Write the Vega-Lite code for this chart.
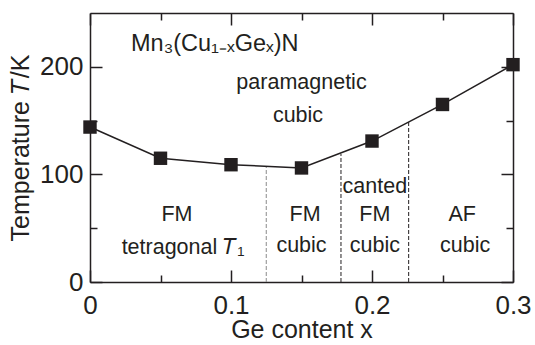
{
  "$schema": "https://vega.github.io/schema/vega-lite/v6.json",
  "width": 423,
  "height": 269,
  "autosize": "none",
  "padding": {"left": 90, "top": 13, "right": 22, "bottom": 63},
  "background": "white",
  "config": {
    "view": {"stroke": null},
    "font": "Liberation Sans",
    "axis": {
      "domainColor": "#231f20", "domainWidth": 1.5, "tickColor": "#231f20", "tickWidth": 1.5,
      "labelColor": "#231f20", "titleColor": "#231f20", "labelFont": "Liberation Sans", "titleFont": "Liberation Sans",
      "labelFontSize": 26, "titleFontSize": 25, "titleFontWeight": "normal", "grid": false
    }
  },
  "layer": [
    {
      "data": {"values": [
        {"x": 0.125, "T0": 0, "T1": 107, "kind": "grey"},
        {"x": 0.178, "T0": 0, "T1": 119, "kind": "black"},
        {"x": 0.226, "T0": 0, "T1": 149, "kind": "black"}
      ]},
      "mark": {"type": "rule", "strokeDash": [4, 2], "strokeWidth": 1},
      "encoding": {
        "x": {"field": "x", "type": "quantitative", "scale": {"domain": [0, 0.3], "nice": false},
          "axis": {"orient": "bottom", "title": "Ge content x", "values": [0, 0.05, 0.1, 0.15, 0.2, 0.25, 0.3],
            "labelExpr": "abs(datum.value*10 - round(datum.value*10)) < 0.01 ? (datum.value == 0 ? '0' : format(datum.value, '.1f')) : ''",
            "tickSize": {"condition": {"test": "abs(datum.value*10 - round(datum.value*10)) < 0.01", "value": -12}, "value": -7},
            "labelPadding": 22, "titlePadding": -6, "labelFlush": false, "labelOverlap": false}},
        "y": {"field": "T0", "type": "quantitative", "scale": {"domain": [0, 250], "nice": false},
          "axis": {"orient": "left", "title": "Temperature 𝑇/K", "values": [0, 50, 100, 150, 200],
            "labelExpr": "datum.value % 100 == 0 ? datum.label : ''",
            "tickSize": {"condition": {"test": "datum.value % 100 == 0", "value": -12}, "value": -7},
            "labelPadding": 19, "titlePadding": 6, "labelFlush": false, "labelOverlap": false}},
        "y2": {"field": "T1"},
        "color": {"field": "kind", "type": "nominal", "scale": {"domain": ["grey", "black"], "range": ["#8a8a8a", "#231f20"]}, "legend": null}
      }
    },
    {
      "data": {"values": [
        {"x": 0, "T": 144}, {"x": 0.05, "T": 115}, {"x": 0.1, "T": 109}, {"x": 0.15, "T": 106},
        {"x": 0.2, "T": 131}, {"x": 0.25, "T": 165}, {"x": 0.3, "T": 202}
      ]},
      "mark": {"type": "line", "color": "#231f20", "strokeWidth": 1.5, "clip": false},
      "encoding": {
        "x": {"field": "x", "type": "quantitative",
          "axis": {"orient": "top", "title": null, "values": [0, 0.05, 0.1, 0.15, 0.2, 0.25, 0.3], "labels": false,
            "tickSize": {"condition": {"test": "abs(datum.value*10 - round(datum.value*10)) < 0.01", "value": -12}, "value": -7}}},
        "y": {"field": "T", "type": "quantitative",
          "axis": {"orient": "right", "title": null, "values": [0, 50, 100, 150, 200], "labels": false,
            "tickSize": {"condition": {"test": "datum.value % 100 == 0", "value": -12}, "value": -7}}}
      }
    },
    {
      "data": {"values": [
        {"x": 0, "T": 144}, {"x": 0.05, "T": 115}, {"x": 0.1, "T": 109}, {"x": 0.15, "T": 106},
        {"x": 0.2, "T": 131}, {"x": 0.25, "T": 165}, {"x": 0.3, "T": 202}
      ]},
      "mark": {"type": "square", "color": "#231f20", "size": 180, "opacity": 1, "filled": true, "clip": false},
      "encoding": {
        "x": {"field": "x", "type": "quantitative", "axis": null},
        "y": {"field": "T", "type": "quantitative", "axis": null}
      }
    },
    {
      "data": {"values": [
        {"label": "Mn₃(Cu₁₋ₓGeₓ)N", "x": 0.0885, "T": 221, "size": "big"},
        {"label": "paramagnetic", "x": 0.150, "T": 185, "size": "small"},
        {"label": "cubic", "x": 0.1475, "T": 154, "size": "small"},
        {"label": "FM", "x": 0.0617, "T": 62.5, "size": "small"},
        {"label": "tetragonal 𝑇₁", "x": 0.066, "T": 32, "size": "small"},
        {"label": "FM", "x": 0.1525, "T": 62.5, "size": "small"},
        {"label": "cubic", "x": 0.150, "T": 33, "size": "small"},
        {"label": "canted", "x": 0.202, "T": 88, "size": "small"},
        {"label": "FM", "x": 0.202, "T": 62.5, "size": "small"},
        {"label": "cubic", "x": 0.202, "T": 33, "size": "small"},
        {"label": "AF", "x": 0.264, "T": 62.5, "size": "small"},
        {"label": "cubic", "x": 0.266, "T": 33, "size": "small"}
      ]},
      "mark": {"type": "text", "color": "#231f20", "baseline": "middle", "align": "center"},
      "encoding": {
        "x": {"field": "x", "type": "quantitative", "axis": null},
        "y": {"field": "T", "type": "quantitative", "axis": null},
        "text": {"field": "label"},
        "size": {"field": "size", "type": "nominal", "scale": {"domain": ["big", "small"], "range": [23.5, 21.5]}, "legend": null}
      }
    }
  ],
  "resolve": {"axis": {"x": "independent", "y": "independent"}}
}
